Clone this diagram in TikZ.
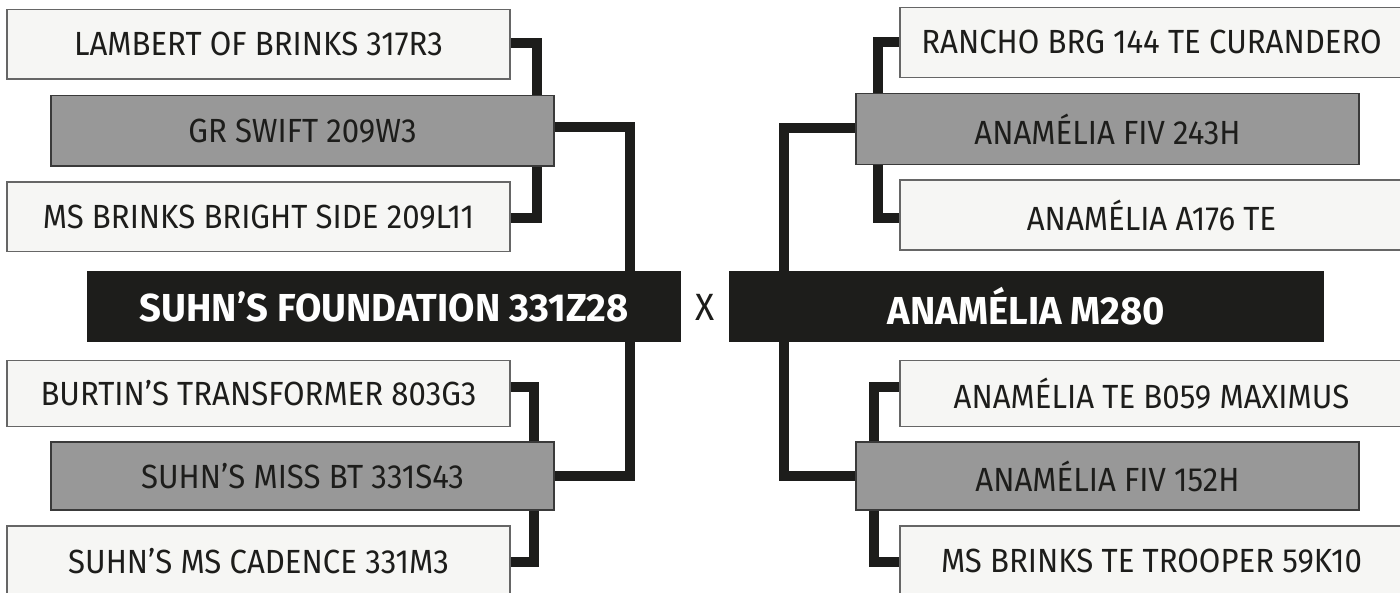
\documentclass[tikz,border=0pt]{standalone}
\usepackage{fontspec}
\setmainfont{Fira Sans}[FakeStretch=0.93]
\newfontfamily\boldlab{Fira Sans Bold}[FakeStretch=0.98]
\usetikzlibrary{backgrounds}
\definecolor{ink}{HTML}{1D1D1B}
\definecolor{paleB}{HTML}{F6F6F4}
\definecolor{paleE}{HTML}{666666}
\definecolor{midB}{HTML}{989898}
\definecolor{midE}{HTML}{3A3A3A}
\tikzset{
  anc/.style={rectangle, inner sep=0pt, outer sep=0pt, line width=1.2pt, text=ink,
    font=\fontsize{33.5}{33.5}\selectfont},
  palebox/.style={anc, fill=paleB, draw=paleE, minimum width=503pt},
  midbox/.style={anc, fill=midB, draw=midE, minimum width=503pt},
  mainbox/.style={anc, fill=ink, draw=ink, text=white, minimum width=592pt, minimum height=70.4pt,
    font=\fontsize{39}{39}\selectfont\boldlab},
  conn/.style={draw=ink, line width=10pt, line join=miter, line cap=butt},
}
\begin{document}
\begin{tikzpicture}[x=1pt,y=-1pt]
\useasboundingbox (0,0) rectangle (1400,593);
% left
\node[palebox, minimum height=69.5pt] (lam) at (258.5,44.25) {LAMBERT OF BRINKS 317R3};
\node[midbox, minimum height=70.3pt] (gr) at (302.5,130.85) {GR SWIFT 209W3};
\node[palebox, minimum height=69.5pt] (msb) at (258.5,216.75) {MS BRINKS BRIGHT SIDE 209L11};
\node[mainbox] (suhn) at (384,306.5) {SUHN’S FOUNDATION 331Z28};
\node[palebox, minimum height=66pt] (bur) at (258.5,393.5) {BURTIN’S TRANSFORMER 803G3};
\node[midbox, minimum height=68pt] (miss) at (302.5,476) {SUHN’S MISS BT 331S43};
\node[palebox, minimum height=71pt] (cad) at (258.5,561.5) {SUHN’S MS CADENCE 331M3};
% cross
\node[anc, font=\fontsize{38}{38}\selectfont] (cross) at (705,307) {X};
% right
\node[palebox, minimum height=70pt] (ran) at (1151.5,42.4) {RANCHO BRG 144 TE CURANDERO};
\node[midbox, minimum height=71pt] (fivA) at (1107.5,129.3) {ANAMÉLIA FIV 243H};
\node[palebox, minimum height=70pt] (ate) at (1151.5,215.1) {ANAMÉLIA A176 TE};
\node[mainbox, minimum width=593pt] (anm) at (1026.5,306.5) {ANAMÉLIA M280};
\node[palebox, minimum height=66pt] (max) at (1151.5,393.5) {ANAMÉLIA TE B059 MAXIMUS};
\node[midbox, minimum height=68pt] (fivB) at (1107.5,476) {ANAMÉLIA FIV 152H};
\node[palebox, minimum height=71pt] (troop) at (1151.5,561.5) {MS BRINKS TE TROOPER 59K10};
\begin{scope}[on background layer]
\fill[white] (0,0) rectangle (1400,593);
\draw[conn] ([yshift=1.25pt]lam.east) -- ++(27,0) |- ([yshift=-1pt]msb.east);
\draw[conn] ([yshift=3.5pt]gr.east) -- ++(75.5,0) |- (miss.east);
\draw[conn] ([yshift=6.8pt]bur.east) -- ++(24,0) |- (cad.east);
\draw[conn] (ran.west) -- ++(-22.5,0) |- ([yshift=-2.9pt]ate.west);
\draw[conn] ([yshift=1.6pt]fivA.west) -- ++(-72.5,0) |- (fivB.west);
\draw[conn] ([yshift=6.8pt]max.west) -- ++(-25.7,0) |- (troop.west);
\end{scope}
\end{tikzpicture}
\end{document}
